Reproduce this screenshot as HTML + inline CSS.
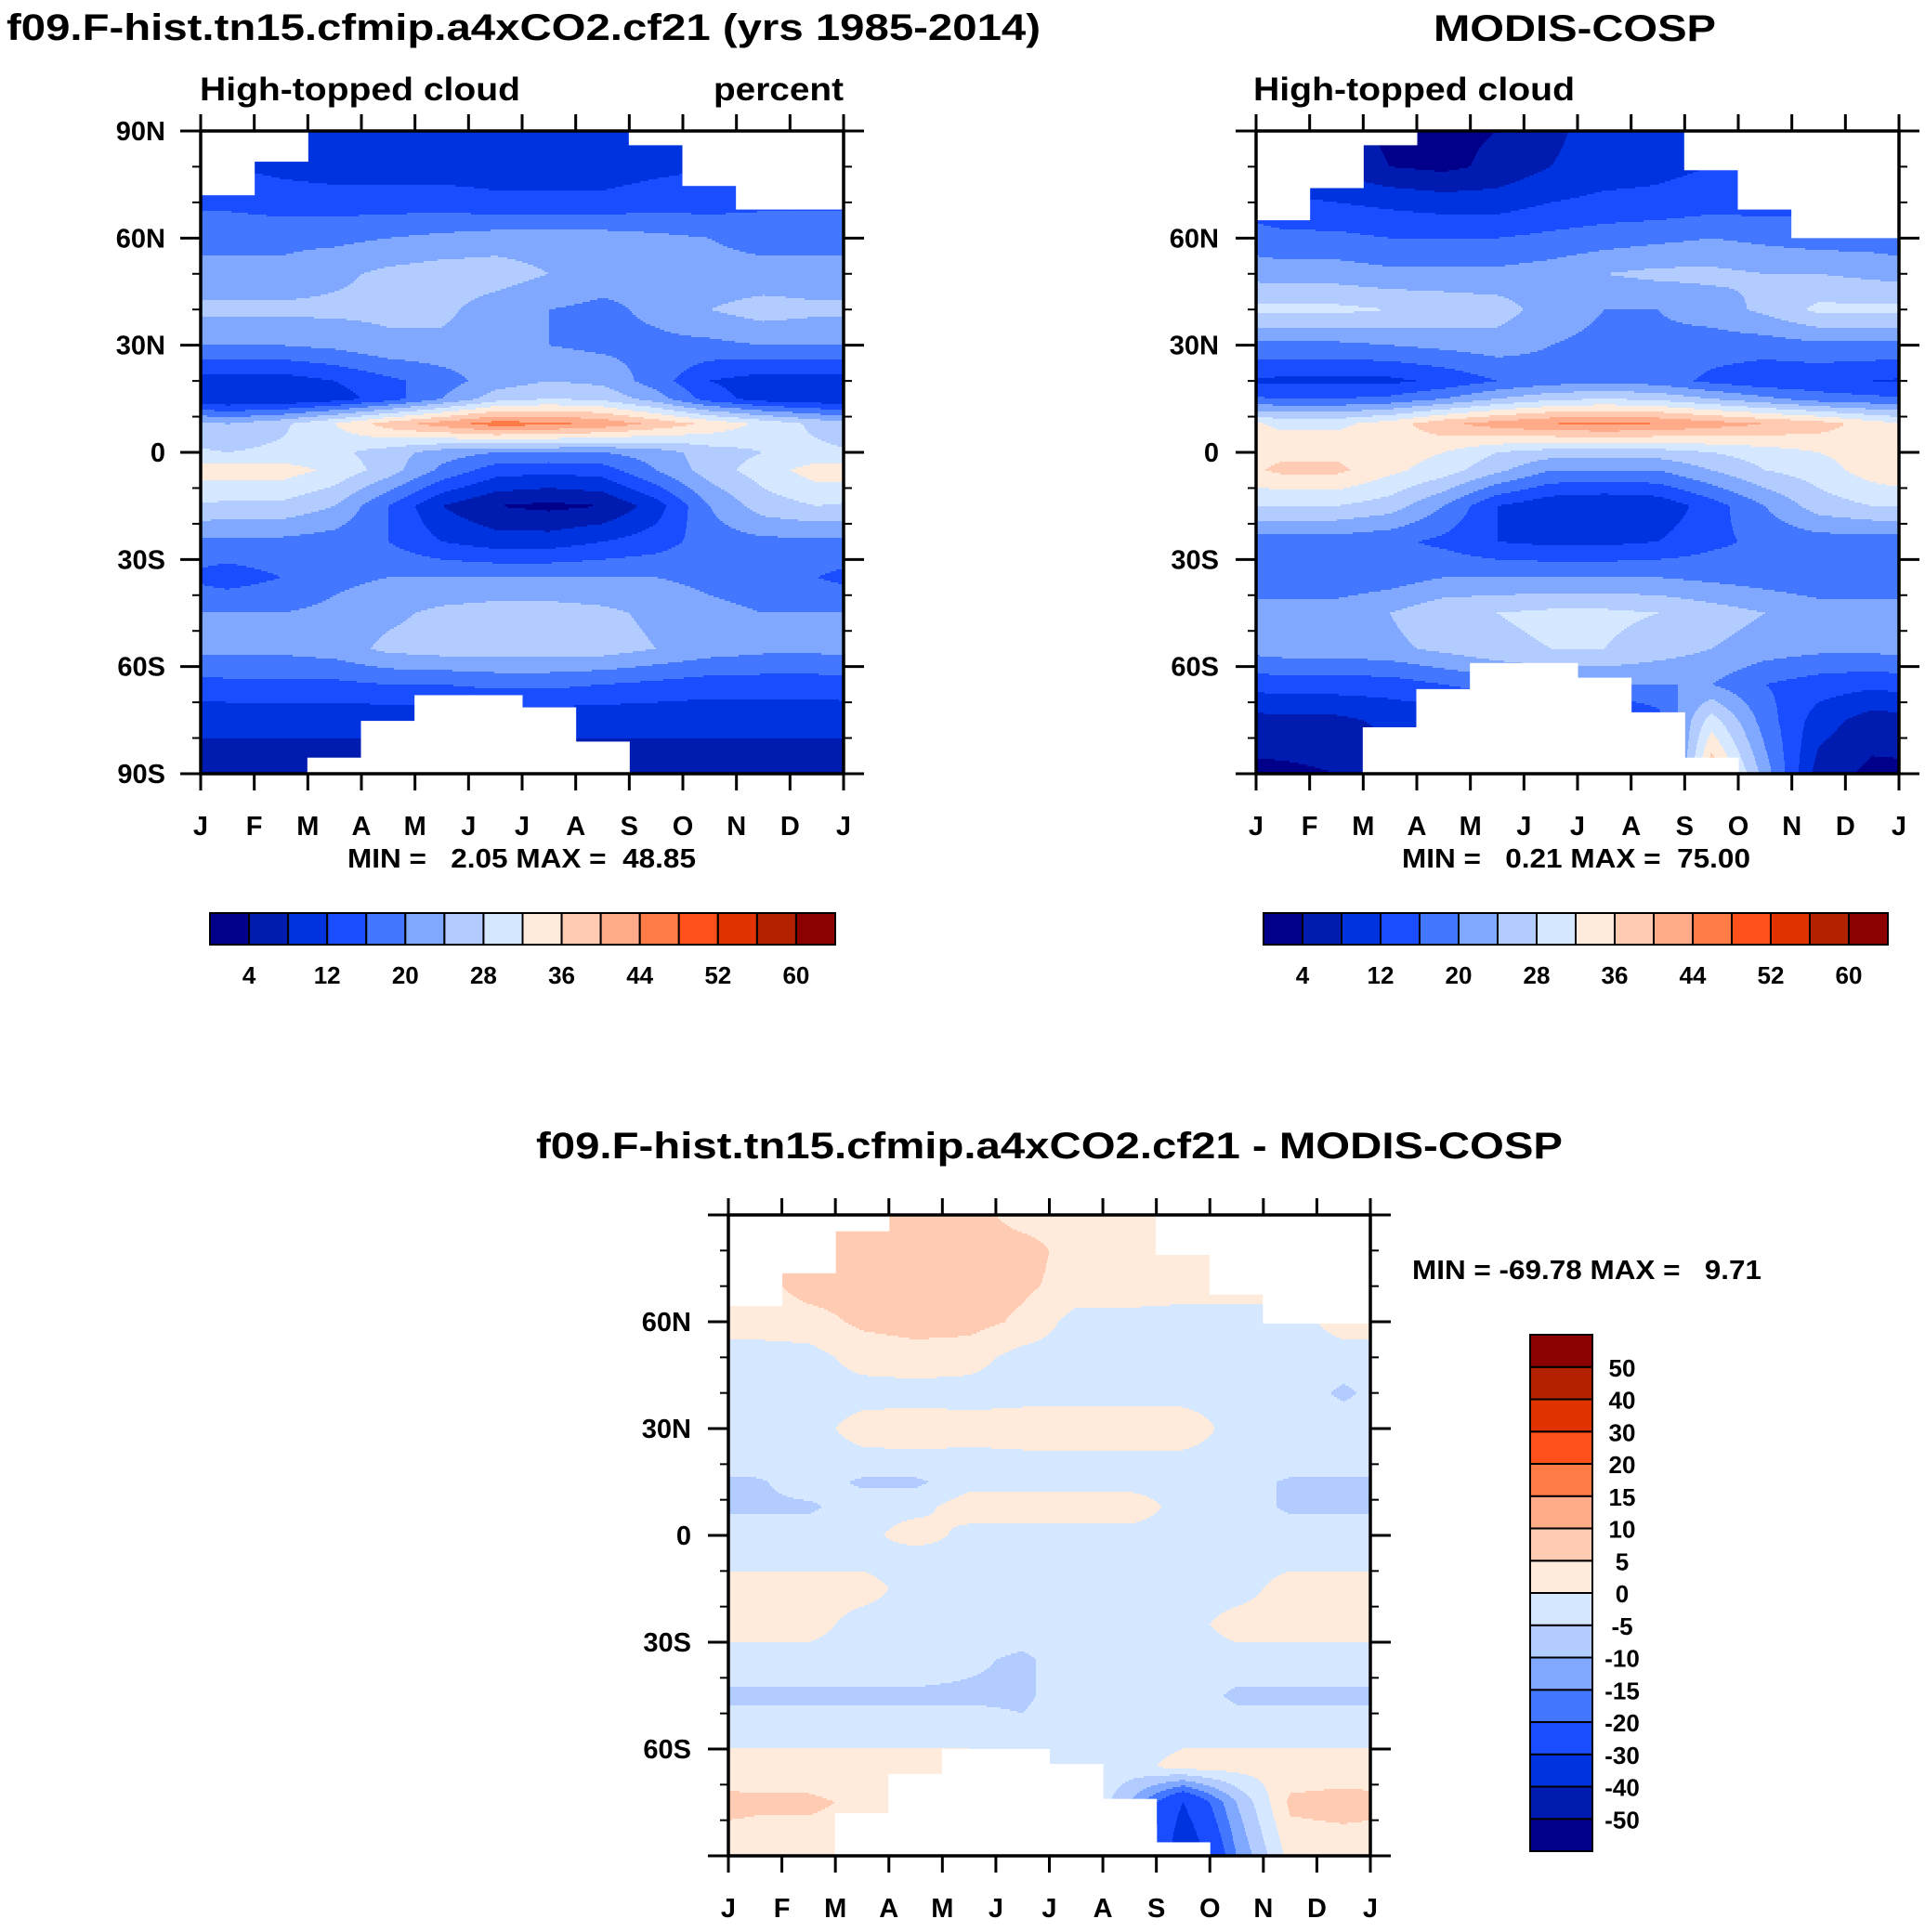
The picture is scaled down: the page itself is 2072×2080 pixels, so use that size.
<!DOCTYPE html>
<html><head><meta charset="utf-8">
<style>
html,body{margin:0;padding:0;background:#fff;}
svg text{font-family:"Liberation Sans",sans-serif;font-weight:bold;fill:#000;}
</style></head>
<body>
<svg id="fig" width="2072" height="2075" viewBox="0 0 2072 2075" xmlns="http://www.w3.org/2000/svg">
<text x="7" y="43" font-size="40" textLength="1113" lengthAdjust="spacingAndGlyphs">f09.F-hist.tn15.cfmip.a4xCO2.cf21 (yrs 1985-2014)</text>
<text x="1543" y="44" font-size="40" textLength="304" lengthAdjust="spacingAndGlyphs">MODIS-COSP</text>
<text x="215" y="108" font-size="35" textLength="345" lengthAdjust="spacingAndGlyphs">High-topped cloud</text>
<text x="768" y="108" font-size="35" textLength="140" lengthAdjust="spacingAndGlyphs">percent</text>
<text x="1349" y="108" font-size="35" textLength="346" lengthAdjust="spacingAndGlyphs">High-topped cloud</text>
<text x="577" y="1247" font-size="40" textLength="1105" lengthAdjust="spacingAndGlyphs">f09.F-hist.tn15.cfmip.a4xCO2.cf21 - MODIS-COSP</text>
<text x="374" y="934" font-size="29" textLength="375" lengthAdjust="spacingAndGlyphs" xml:space="preserve">MIN =   2.05 MAX =  48.85</text>
<text x="1509" y="934" font-size="29" textLength="375" lengthAdjust="spacingAndGlyphs" xml:space="preserve">MIN =   0.21 MAX =  75.00</text>
<text x="1520" y="1377" font-size="29" textLength="376" lengthAdjust="spacingAndGlyphs" xml:space="preserve">MIN = -69.78 MAX =   9.71</text>
</svg>
<script>
// ---- data ----
const months = ['J','F','M','A','M','J','J','A','S','O','N','D','J'];
const lats = [90,80,70,60,50,40,30,20,15,8,0,-5,-15,-25,-35,-45,-55,-65,-75,-90];
const modelValues = [
[11,11,10,10,10,10,10,10,11,12,12,12],
[12,11,10,10,10,10,10,10,11,12,12,12],
[15,14,14,14,14,13,13,13,14,14,15,15],
[19,19,19,20,21,22,22,22,21,20,19,19],
[21,21,23,25,26,26,24,22,21,21,21,21],
[25,25,25,25,25,22,20,19,21,24,26,25],
[20,20,21,23,23,22,20,19,19,19,20,20],
[10,10,12,15,18,22,24,23,18,12,10,10],
[8,8,10,14,20,26,28,27,22,14,10,9],
[24,27,32,38,42,46,45,43,39,35,31,27],
[28,29,29,26,22,20,20,20,22,26,28,29],
[34,34,31,26,19,14,13,14,20,26,30,34],
[27,27,24,16,8,4,3,4,10,20,26,28],
[19,19,18,16,12,10,10,12,14,18,19,19],
[14,16,19,20,20,20,20,20,20,19,18,16],
[20,20,21,23,25,26,26,25,23,21,20,20],
[21,21,22,25,26,26,26,26,24,22,21,21],
[15,15,15,16,16,17,17,16,15,14,14,14],
[9,9,9,9,9,9,9,9,9,9,9,9],
[6,6,6,6,6,6,6,6,6,6,6,6]];
const obsValues = [
[8,6,3,3,4,7,10,11,12,12,12,12],
[8,7,4,3,5,8,10,11,12,12,12,12],
[13,12,11,10,10,12,13,13,14,14,15,15],
[17,17,16,16,16,17,18,19,20,19,18,18],
[22,22,21,21,21,22,24,25,25,24,24,23],
[29,29,28,27,26,22,20,20,22,25,29,29],
[19,19,20,21,22,20,19,19,18,18,19,19],
[11,11,11,13,16,18,19,18,15,13,13,12],
[16,16,17,20,24,27,28,27,24,21,18,17],
[31,31,34,39,42,44,45,44,42,40,38,34],
[35,35,34,32,28,26,26,26,28,30,32,34],
[37,37,33,30,25,20,20,20,24,28,30,34],
[28,28,26,20,12,9,8,9,14,20,26,28],
[18,18,17,15,12,11,11,12,15,17,18,18],
[17,17,18,20,20,20,20,20,19,18,17,17],
[22,22,24,27,28,29,29,28,26,24,22,22],
[22,22,23,25,27,28,28,26,24,22,21,21],
[14,14,14,16,18,20,20,20,20,16,14,13],
[7,7,9,9,9,9,9,14,30,18,10,6],
[3,4,6,6,6,6,6,6,40,22,6,3]];
const diffValues = [
[7,7,7,7,7,3,3,3,7,2,2,2],
[7,7,7,7,7,7,3,3,3,2,2,2],
[3,7,7,7,7,6,3,3,2,2,2,2],
[2,3,6,7,7,4,-2,-2,-2,-2,-2,2],
[-2,-2,2,3,2,-2,-2,-2,-2,-2,-2,-2],
[-2,-2,-2,-2,-2,-2,-2,-2,-2,-2,-2,-6],
[-2,-2,2,3,2,3,3,3,3,-2,-2,-2],
[-2,-2,-2,-2,-2,-2,-2,-2,-2,-2,-2,-2],
[-6,-2,-6,-6,-2,-2,-2,-2,-2,-2,-6,-6],
[-6,-6,-2,-2,3,3,3,3,-2,-2,-6,-6],
[-2,-2,-2,3,-2,-2,-2,-2,-2,-2,-2,-2],
[-2,-2,-2,-2,-2,-2,-2,-2,-2,-2,-2,-2],
[2,2,2,-2,-2,-2,-2,-2,-2,-2,2,2],
[2,2,-2,-2,-2,-2,-2,-2,-2,2,2,2],
[-2,-2,-2,-2,-4,-6,-2,-2,-2,-2,-2,-2],
[-6,-6,-6,-6,-6,-6,-2,-2,-2,-6,-6,-6],
[-2,-2,-2,-2,-2,-4,-2,-2,-2,-2,-2,-2],
[2,2,2,2,2,2,-2,-2,2,2,2,2],
[6,6,4,4,4,4,4,-10,-30,-10,6,7],
[2,2,2,2,2,2,2,2,-40,-15,2,2]];
const modelMaskNorth = [72,81.4,90,90,90,90,90,90,86,74.6,68,68];
const modelMaskSouth = [-90,-90,-85.5,-75.2,-68,-68,-71.4,-81,-90,-90,-90,-90];
const obsMaskNorth = [65,74,86,90,90,90,90,90,79,68,60,60];
const obsMaskSouth = [-90,-90,-77,-66.3,-59,-59,-63.1,-72.8,-85.5,-90,-90,-90];
const diffMaskNorth = [64.4,73.6,85.4,90,90,90,90,90,78.8,67.6,59.5,59.5];
const diffMaskSouth = [-90,-90,-78,-67,-60,-60,-64.2,-74,-86.2,-90,-90,-90];
const absLevels = [4,8,12,16,20,24,28,32,36,40,44,48,52,56,60];
const absTickLabels = ['4','12','20','28','36','44','52','60'];
const diffLevels = [-50,-40,-30,-20,-15,-10,-5,0,5,10,15,20,30,40,50];
const diffTickLabels = ['-50','-40','-30','-20','-15','-10','-5','0','5','10','15','20','30','40','50'];
const colors = ['#00008B','#001CB0','#0033E0','#1A4DFF','#4477FF','#80A8FF','#B3CCFF','#D6E8FF','#FFEBDB','#FFCCB3','#FFAA88','#FF7B47','#FF4F1A','#E03300','#B22200','#8B0000'];

const NS='http://www.w3.org/2000/svg';
const svg=document.getElementById('fig');
function mk(tag,attrs,parent){const e=document.createElementNS(NS,tag);for(const k in attrs)e.setAttribute(k,attrs[k]);(parent||svg).appendChild(e);return e;}

function sample(vals,lat,t){
  let i=0; while(i<lats.length-2 && lat<lats[i+1]) i++;
  let f=(lats[i]-lat)/(lats[i]-lats[i+1]); f=Math.max(0,Math.min(1,f));
  const m0=Math.floor(t), ft=t-m0;
  const a=((m0%12)+12)%12, b=(a+1)%12;
  const r0=vals[i][a]*(1-ft)+vals[i][b]*ft;
  const r1=vals[i+1][a]*(1-ft)+vals[i+1][b]*ft;
  return r0*(1-f)+r1*f;
}
function level(v,levels){let k=0;while(k<levels.length&&v>=levels[k])k++;return k;}

function panel(name,x0,y0,w,h,vals,levels,maskN,maskS,ylabels,ylabelX){
  const g=mk('g',{});
  
  
  const ys=lat=>y0+(90-lat)/180*h;
  const step=2;
  for(let y=y0;y<y0+h;y+=step){
    const lat=90-((y+step/2)-y0)/h*180;
    let runStart=x0,runC=-1;
    for(let x=x0;x<=x0+w;x++){
      let c=-1;
      if(x<x0+w){const t=(x+0.5-x0)/w*12-0.5;c=level(sample(vals,lat,t),levels);}
      if(c!==runC){
        if(runC>=0){
          const r=mk('rect',{x:runStart,y:y,width:x-runStart+0.6,height:step+0.6,fill:colors[runC]},g);
          
          
        }
        runStart=x;runC=c;
      }
    }
  }
  for(let m=0;m<12;m++){
    const xa=x0+m/12*w,xb=x0+(m+1)/12*w;
    if(maskN[m]<90){const r=mk('rect',{x:xa-0.5,y:y0,width:xb-xa+1,height:ys(maskN[m])-y0,fill:'#fff'},g);
      }
    if(maskS[m]>-90){const r=mk('rect',{x:xa-0.5,y:ys(maskS[m]),width:xb-xa+1,height:y0+h-ys(maskS[m]),fill:'#fff'},g);
      }
  }
  mk('rect',{x:x0,y:y0,width:w,height:h,fill:'none',stroke:'#000','stroke-width':3.5},g);
  for(let m=0;m<=12;m++){
    const x=x0+m/12*w;
    mk('line',{x1:x,y1:y0,x2:x,y2:y0-18,stroke:'#000','stroke-width':3},g);
    mk('line',{x1:x,y1:y0+h,x2:x,y2:y0+h+18,stroke:'#000','stroke-width':3},g);
    const t=mk('text',{x:x,y:y0+h+66,'font-size':29,'text-anchor':'middle'},g);
    
    
    t.textContent=months[m];
  }
  for(let lat=-90;lat<=90;lat+=10){
    const y=ys(lat),major=lat%30===0,L=major?22:9;
    mk('line',{x1:x0,y1:y,x2:x0-L,y2:y,stroke:'#000','stroke-width':major?3:2},g);
    mk('line',{x1:x0+w,y1:y,x2:x0+w+L,y2:y,stroke:'#000','stroke-width':major?3:2},g);
  }
  ylabels.forEach(l=>{
    const t=mk('text',{x:ylabelX,y:ys(l[0])+10,'font-size':29,'text-anchor':'end'},g);
    
    
    t.textContent=l[1];
  });
}
const yl1=[[90,'90N'],[60,'60N'],[30,'30N'],[0,'0'],[-30,'30S'],[-60,'60S'],[-90,'90S']];
const yl2=[[60,'60N'],[30,'30N'],[0,'0'],[-30,'30S'],[-60,'60S']];
panel('model-panel',216,141,692,692,modelValues,absLevels,modelMaskNorth,modelMaskSouth,yl1,178);
panel('obs-panel',1352,141,692,692,obsValues,absLevels,obsMaskNorth,obsMaskSouth,yl2,1312);
panel('diff-panel',784,1308,691,690,diffValues,diffLevels,diffMaskNorth,diffMaskSouth,yl2,744);

function hbar(name,x0,y0,w,h){
  const g=mk('g',{});
  
  
  const bw=w/colors.length;
  colors.forEach((c,i)=>{
    const r=mk('rect',{x:x0+i*bw,y:y0,width:bw,height:h,fill:c,stroke:'#000','stroke-width':2},g);
    
    
  });
  absLevels.forEach((v,i)=>{
    const lab=absTickLabels.indexOf(String(v));
    if(lab<0)return;
    const t=mk('text',{x:x0+(i+1)*bw,y:y0+h+42,'font-size':26,'text-anchor':'middle'},g);
    
    
    t.textContent=absTickLabels[lab];
  });
}
hbar('model-colorbar',226,983,673,34);
hbar('obs-colorbar',1360,983,672,34);

(function(){
  const x0=1647,y0=1437,w=67,h=556;
  const g=mk('g',{});
  
  
  const bh=h/colors.length;
  colors.forEach((c,i)=>{
    const r=mk('rect',{x:x0,y:y0+h-(i+1)*bh,width:w,height:bh,fill:c,stroke:'#000','stroke-width':2},g);
    
    
  });
  diffLevels.forEach((v,i)=>{
    const t=mk('text',{x:x0+w+32,y:y0+h-(i+1)*bh+10,'font-size':26,'text-anchor':'middle'},g);
    
    
    t.textContent=diffTickLabels[i];
  });
})();
</script>
</body></html>
